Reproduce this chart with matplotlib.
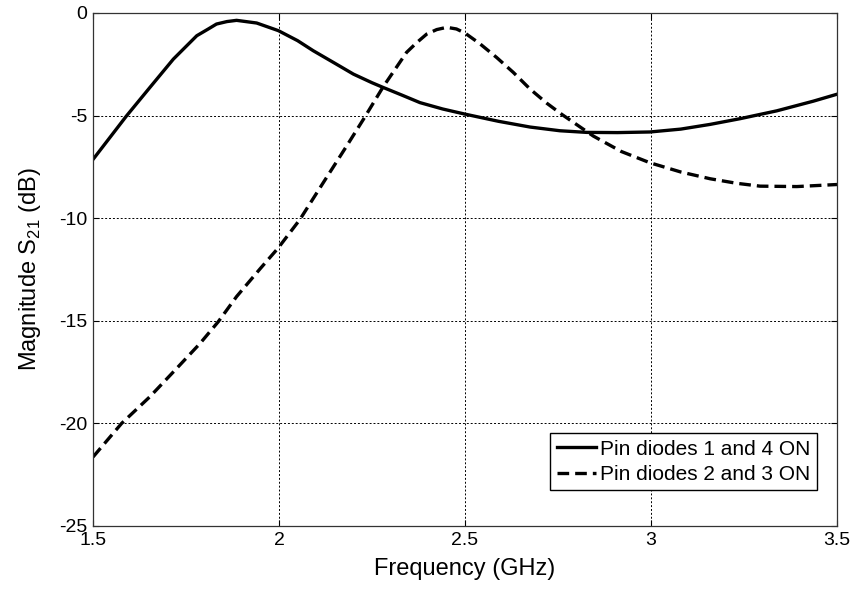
import matplotlib
matplotlib.use('Agg')
import matplotlib.pyplot as plt

plt.rcParams['font.family'] = ['Liberation Sans', 'DejaVu Sans']
plt.rcParams['axes.unicode_minus'] = False

# values
freq_on14 = [1.5, 1.59, 1.653, 1.716, 1.779, 1.81, 1.832, 1.86, 1.886, 1.94, 1.998, 2.05, 2.092,
             2.15, 2.2, 2.25, 2.28, 2.33, 2.379, 2.44, 2.5, 2.59, 2.675, 2.755, 2.827, 2.91,
             2.997, 3.08, 3.159, 3.24, 3.338, 3.436, 3.5]
s21_on14 = [-7.14, -5.02, -3.63, -2.25, -1.11, -0.78, -0.54, -0.42, -0.36, -0.49, -0.86, -1.35, -1.84,
            -2.45, -2.98, -3.4, -3.63, -4.0, -4.37, -4.68, -4.93, -5.28, -5.56, -5.74, -5.82, -5.83,
            -5.80, -5.66, -5.43, -5.15, -4.77, -4.3, -3.96]

freq_on23 = [1.5, 1.577, 1.653, 1.725, 1.788, 1.837, 1.886, 1.95, 1.998, 2.056, 2.119, 2.182,
             2.227, 2.28, 2.343, 2.37, 2.397, 2.424, 2.451, 2.477, 2.5, 2.54, 2.585, 2.63,
             2.675, 2.72, 2.76, 2.845, 2.92, 2.997, 3.08, 3.159, 3.23, 3.293, 3.392, 3.5]
s21_on23 = [-21.64, -20.0, -18.7, -17.32, -16.1, -15.04, -13.82, -12.45, -11.45, -10.07, -8.27, -6.48,
            -5.18, -3.6, -1.92, -1.45, -1.03, -0.81, -0.70, -0.78, -0.98, -1.5, -2.17, -2.9,
            -3.71, -4.4, -4.94, -6.0, -6.75, -7.3, -7.75, -8.08, -8.3, -8.44, -8.46, -8.36]

labels = ['Pin diodes 1 and 4 ON', 'Pin diodes 2 and 3 ON']
xticks = [1.5, 2, 2.5, 3, 3.5]
xticklabels = ['1.5', '2', '2.5', '3', '3.5']
yticks = [-25, -20, -15, -10, -5, 0]

fig = plt.figure(figsize=(8.57, 5.89), dpi=100)
ax = fig.add_axes([0.1085, 0.107, 0.8682, 0.871])

ax.plot(freq_on14, s21_on14, color='black', linewidth=2.4, linestyle='-', label=labels[0])
ax.plot(freq_on23, s21_on23, color='black', linewidth=2.4, linestyle=(0, (3.5, 1.8)), label=labels[1])

ax.set_xlim(1.5, 3.5)
ax.set_ylim(-25, 0)
ax.set_xticks(xticks)
ax.set_xticklabels(xticklabels)
ax.set_yticks(yticks)
ax.grid(True, color='black', linestyle=(0, (2, 2)), linewidth=0.7)
ax.tick_params(direction='in', top=True, right=True, labelsize=14, length=4, pad=4)
for sp in ax.spines.values():
    sp.set_color('#333333')
    sp.set_linewidth(0.9)

ax.set_xlabel('Frequency (GHz)', fontsize=17, labelpad=7)
ax.set_ylabel('Magnitude S$_{\\mathregular{21}}$ (dB)', fontsize=17, labelpad=12)

leg = ax.legend(loc='lower right', bbox_to_anchor=(0.973, 0.07), borderaxespad=0,
                fontsize=15, frameon=True, fancybox=False, handlelength=1.9,
                handletextpad=0.2, borderpad=0.3, labelspacing=0.3)
leg.get_frame().set_edgecolor('black')
leg.get_frame().set_linewidth(1.0)
leg.get_frame().set_alpha(1)

fig.savefig('out.png', dpi=100)
